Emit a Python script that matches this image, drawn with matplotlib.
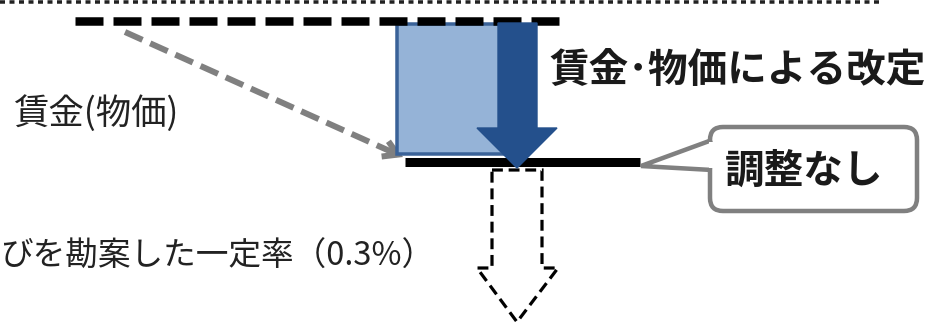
import matplotlib
matplotlib.use("Agg")
import matplotlib.pyplot as plt
import numpy as np
from matplotlib.patches import Rectangle, Polygon, FancyArrowPatch, FancyBboxPatch
from matplotlib.lines import Line2D

plt.rcParams['font.family'] = ['Noto Sans CJK JP', 'DejaVu Sans']

# ---- content ----
label_revision = "賃金･物価による改定"
label_no_adjust = "調整なし"
label_wage = "賃金(物価)"
label_rate = "びを勘案した一定率（0.3%）"

# diagram levels (pixel space of the 936x324 canvas, y downward)
level_prev = [75, 563]          # x-extent of previous level (dashed)
level_prev_y = 21
level_new = [405, 640]          # x-extent of new level (solid)
level_new_y = 162
top_rule_x = [0, 881]
top_rule_y = 2
gray_start = (125, 32)
gray_end = (403, 157)

DPI = 100
W, H = 936, 324
fig = plt.figure(figsize=(W / DPI, H / DPI), dpi=DPI)
ax = fig.add_axes([0, 0, 1, 1])
ax.set_xlim(0, W)
ax.set_ylim(H, 0)
ax.axis('off')

PX = 72 / DPI  # points per pixel

# top dotted rule
ax.add_line(Line2D(top_rule_x, [top_rule_y, top_rule_y], color='#222222', lw=3.5 * PX,
                   dash_capstyle='butt', linestyle=(0, (5 / 3.5, 4.5 / 3.5))))

# gray dashed arrow: dashed shaft + solid open head
p0 = np.array(gray_start, float)
p1 = np.array(gray_end, float)
d = (p1 - p0) / np.linalg.norm(p1 - p0)
pm = p1 - d * 6
ax.add_line(Line2D([p0[0], pm[0]], [p0[1], pm[1]], color='#808080', lw=6 * PX,
                   dash_capstyle='butt', linestyle=(0, (3.2, 1.4)), zorder=2))
ax.add_patch(FancyArrowPatch(tuple(p1 - d * 14), tuple(p1),
                             arrowstyle='->,head_length=10,head_width=6',
                             color='#808080', lw=6 * PX, shrinkA=0, shrinkB=0,
                             zorder=2, joinstyle='miter', capstyle='butt'))

# light blue box
ax.add_patch(Rectangle((397, 24), 115, 130, facecolor='#95b3d7', edgecolor='#3a6298',
                       lw=3.5 * PX, zorder=3))

# previous level dashed line
ax.add_line(Line2D(level_prev, [level_prev_y, level_prev_y], color='black', lw=8.5 * PX,
                   dash_capstyle='butt', linestyle=(0, (28 / 8.5, 10 / 8.5)), zorder=4))

# new level solid line
ax.add_line(Line2D(level_new, [level_new_y, level_new_y], color='black', lw=9 * PX,
                   solid_capstyle='butt', zorder=4))

# dark blue arrow
dark = Polygon([(498, 23), (537, 23), (537, 128), (557, 128), (517, 168),
                (477, 128), (498, 128)], closed=True, facecolor='#24508c',
               edgecolor='#24508c', lw=1, zorder=5)
ax.add_patch(dark)

# hollow dashed arrow
hollow = Polygon([(492, 170), (542, 170), (542, 268), (558, 268), (517, 322),
                  (477, 268), (492, 268)], closed=True, facecolor='white',
                 edgecolor='black', lw=3.2 * PX, linestyle=(0, (3.4, 1.8)), zorder=3)
ax.add_patch(hollow)

# callout
callout = FancyBboxPatch((710, 127), 207, 84, boxstyle='round,pad=0,rounding_size=13',
                         facecolor='white', edgecolor='#808080', lw=4.5 * PX, zorder=6)
ax.add_patch(callout)
pointer = Polygon([(712, 140), (641, 166), (712, 170)], closed=False,
                  facecolor='white', edgecolor='#808080', lw=4.5 * PX, zorder=7,
                  joinstyle='miter')
ax.add_patch(pointer)
ax.add_patch(Rectangle((709, 142), 6, 26, facecolor='white', edgecolor='none', zorder=7))

ax.text(804, 171, label_no_adjust, fontsize=28.5, fontweight='bold', ha='center',
        va='center', color='#1a1a1a', zorder=8)
ax.text(549, 70, label_revision, fontsize=28.5, fontweight='bold', ha='left',
        va='center', color='#1a1a1a', zorder=8)
ax.text(13, 114, label_wage, fontsize=25.5, ha='left', va='center', color='#222222',
        zorder=8)
ax.text(0, 257, label_rate, fontsize=23.5, ha='left', va='center', color='#222222',
        zorder=8)

fig.savefig('out.png', dpi=DPI, facecolor='white')
